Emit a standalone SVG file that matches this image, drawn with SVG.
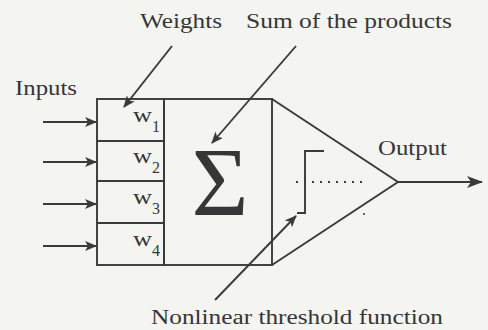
<svg xmlns="http://www.w3.org/2000/svg" width="488" height="330" viewBox="0 0 488 330">
<style>
.ink{fill:none;stroke:#3a3a3a;stroke-width:1.9}
.t{font-family:"Liberation Serif","Times New Roman",serif;fill:#363636}
.lbl{font-size:20px}
.w{font-size:22px}
.sub{font-size:16px}
</style>
<defs>
<marker id="ah" viewBox="0 0 12 10" refX="11" refY="5" markerWidth="12" markerHeight="10" markerUnits="userSpaceOnUse" orient="auto">
<path d="M0,0 L12,5 L0,10 L3,5 z" fill="#3a3a3a"/>
</marker>
<marker id="ahb" viewBox="0 0 16 12" refX="15" refY="6" markerWidth="16" markerHeight="12" markerUnits="userSpaceOnUse" orient="auto">
<path d="M0,0 L16,6 L0,12 L4,6 z" fill="#3a3a3a"/>
</marker>
</defs>
<rect width="488" height="330" fill="#f4f4f1"/>
<g id="label-weights"><text class="t lbl" x="140" y="28" textLength="82" lengthAdjust="spacingAndGlyphs">Weights</text></g>
<g id="label-sum"><text class="t lbl" x="246" y="28" textLength="206" lengthAdjust="spacingAndGlyphs">Sum of the products</text></g>
<g id="label-inputs"><text class="t lbl" x="15" y="95" textLength="62" lengthAdjust="spacingAndGlyphs">Inputs</text></g>
<g id="label-output"><text class="t lbl" x="378" y="155" textLength="69" lengthAdjust="spacingAndGlyphs">Output</text></g>
<g id="label-nonlinear"><text class="t lbl" x="151" y="324" textLength="292" lengthAdjust="spacingAndGlyphs">Nonlinear threshold function</text></g>
<g id="weights">
<rect class="ink" x="97" y="99" width="67" height="166"/>
<line class="ink" x1="97" y1="141" x2="164" y2="141"/>
<line class="ink" x1="97" y1="181" x2="164" y2="181"/>
<line class="ink" x1="97" y1="223" x2="164" y2="223"/>
<text class="t w" x="133" y="122" textLength="19" lengthAdjust="spacingAndGlyphs">w</text><text class="t sub" x="152" y="132">1</text>
<text class="t w" x="133" y="163" textLength="19" lengthAdjust="spacingAndGlyphs">w</text><text class="t sub" x="152" y="173">2</text>
<text class="t w" x="133" y="204" textLength="19" lengthAdjust="spacingAndGlyphs">w</text><text class="t sub" x="152" y="214">3</text>
<text class="t w" x="133" y="246" textLength="19" lengthAdjust="spacingAndGlyphs">w</text><text class="t sub" x="152" y="256">4</text>
</g>
<g id="summation">
<rect class="ink" x="164" y="99" width="108" height="166"/>
<text class="t" x="220" y="215" font-size="98" text-anchor="middle">Σ</text>
</g>
<g id="threshold">
<path class="ink" d="M272,99 L398,182 L272,265"/>
<path class="ink" d="M297,213 H305 V151 H324"/>
<line class="ink" x1="296" y1="182" x2="366" y2="182" stroke-dasharray="2 6" stroke-width="2"/>
<circle cx="364" cy="214" r="1" fill="#3a3a3a"/>
</g>
<g id="connectors" class="ink">
<line x1="43" y1="122" x2="96" y2="122" marker-end="url(#ah)"/>
<line x1="43" y1="162" x2="96" y2="162" marker-end="url(#ah)"/>
<line x1="43" y1="204" x2="96" y2="204" marker-end="url(#ah)"/>
<line x1="43" y1="246" x2="96" y2="246" marker-end="url(#ah)"/>
<line x1="398" y1="182" x2="482" y2="182" marker-end="url(#ahb)"/>
<line x1="172" y1="46" x2="124" y2="107" marker-end="url(#ah)"/>
<line x1="296" y1="46" x2="212" y2="143" marker-end="url(#ah)"/>
<line x1="215" y1="300" x2="296" y2="216" marker-end="url(#ah)"/>
</g>
</svg>
